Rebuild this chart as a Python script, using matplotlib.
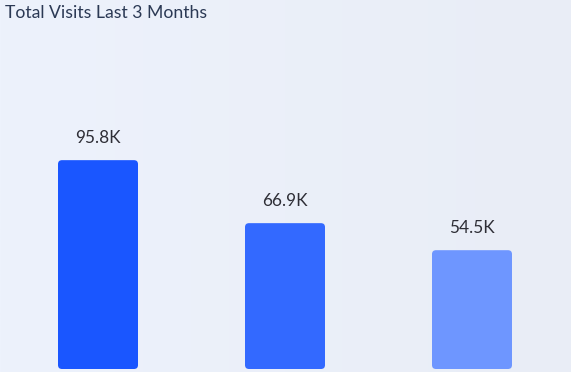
import numpy as np
import matplotlib.pyplot as plt
from matplotlib.patches import FancyBboxPatch
from matplotlib.colors import LinearSegmentedColormap

months = ["Month 1", "Month 2", "Month 3"]
visits_k = [95.8, 66.9, 54.5]
labels = ["95.8K", "66.9K", "54.5K"]
colors = ["#1a56ff", "#3369ff", "#6e96ff"]

W, H = 571, 372
fig = plt.figure(figsize=(W / 100, H / 100), dpi=100)

# soft background gradient
bg = fig.add_axes([0, 0, 1, 1])
grad = np.linspace(0, 1, 256)[None, :]
cmap = LinearSegmentedColormap.from_list("bg", ["#edf2fc", "#e9edf6"])
bg.imshow(grad, aspect="auto", cmap=cmap, extent=[0, 1, 0, 1])
bg.axis("off")

base_px = 369
ax = fig.add_axes([0, (H - base_px) / H, 1, base_px / H])
ax.set_facecolor("none")
px_per_unit = 187
x = np.arange(len(months))
ax.set_xlim(-98 / px_per_unit, 2 + (W - 472) / px_per_unit)
ymax = base_px / 2.18
ax.set_ylim(0, ymax)

bw = 80 / px_per_unit
r_x = 4 / px_per_unit
aspect = (4 / 2.18) / r_x
for xi, v, c, lab in zip(x, visits_k, colors, labels):
    p = FancyBboxPatch((xi - bw / 2, 0), bw, v,
                       boxstyle=f"round,pad=0,rounding_size={r_x}",
                       mutation_aspect=aspect, fc=c, ec="none")
    ax.add_patch(p)
    ax.text(xi, v + 22 / 2.18, lab, ha="center", va="center",
            fontsize=12.4, color="#2e2e36", family=["Lato", "DejaVu Sans"])

ax.axis("off")

fig.text(5 / W, 1 - 13 / H, "Total Visits Last 3 Months", ha="left", va="center",
         fontsize=12.7, color="#2b3954", family=["Lato", "DejaVu Sans"])

fig.savefig("out.png", dpi=100)
